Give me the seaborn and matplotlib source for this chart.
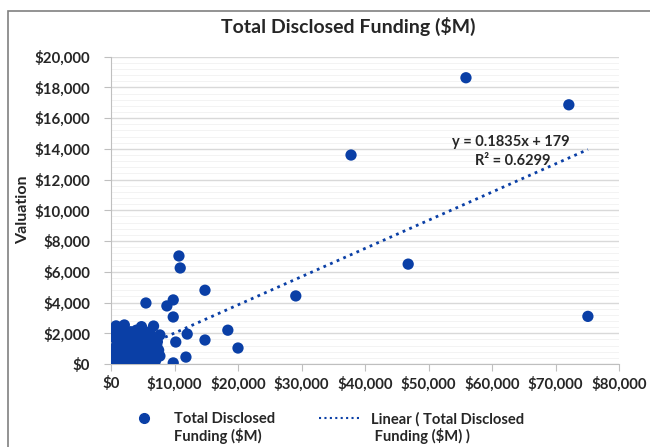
import pandas as pd
import numpy as np
import matplotlib.pyplot as plt
import seaborn as sns
from matplotlib.ticker import FuncFormatter, MultipleLocator
from matplotlib.lines import Line2D
from matplotlib.patches import Rectangle
from matplotlib.offsetbox import HPacker

# funding ($M) vs valuation
funding = [55900, 72100, 37800, 46800, 29100, 75100, 20000, 18400, 14800, 14800,
           10700, 10900, 9800, 8800, 9800, 12000, 10200, 11800, 9800, 7700,
           5500, 800, 2100, 4800, 6700, 7700,
           300, 500, 700, 900, 1000, 1200, 1300, 1500, 1600, 1800,
           2000, 2100, 2200, 2400, 2500, 2700, 2800, 3000, 3100, 3200,
           3400, 3500, 3600, 3800, 3900, 4000, 4100, 4300, 4400, 4500,
           4700, 4800, 5000, 5100, 5200, 5400, 5500, 5600, 5800, 6000,
           6100, 6300, 6500, 6700, 6900, 7000, 7200, 7500, 7300, 600,
           800, 1100, 400, 200, 1400, 2600, 3300, 1900, 2900, 3700,
           4600, 5300, 6200, 6800, 500, 1000, 1500, 2300, 4200, 5900]
valuation = [18630, 16870, 13600, 6500, 4430, 3100, 1040, 2200, 4800, 1560,
             7030, 6250, 4170, 3780, 3060, 1950, 1430, 450, 70, 520,
             3970, 2480, 2540, 2430, 2470, 1890,
             50, 300, 800, 1200, 100, 600, 1500, 350, 1000, 1800,
             50, 700, 1300, 2000, 400, 950, 1600, 150, 2100, 550,
             1100, 1850, 300, 800, 1400, 2200, 50, 650, 1200, 1700,
             250, 900, 2000, 1500, 450, 1100, 100, 1750, 700, 1300,
             2100, 350, 950, 1600, 600, 200, 1200, 900, 1450, 1700,
             2100, 1900, 1000, 600, 50, 1200, 0, 400, 200, 1700,
             1300, 750, 850, 1100, 2200, 1500, 2300, 900, 300, 2000]

slope = 0.1835
intercept = 179
r2 = 0.6299

x_ticks = [0, 10000, 20000, 30000, 40000, 50000, 60000, 70000, 80000]

blue = "#0A3FA6"

df = pd.DataFrame({"funding": funding, "valuation": valuation})
trend = pd.DataFrame({"funding": [min(funding), max(funding)]})
trend["valuation"] = slope * trend["funding"] + intercept

sns.set_style("white")
plt.rcParams["font.family"] = ["Lato", "DejaVu Sans"]

fig = plt.figure(figsize=(6.5, 4.47), dpi=100)
ax = fig.add_axes([111 / 650, 1 - 364 / 447, 508 / 650, 307.3 / 447])

ax.yaxis.set_minor_locator(MultipleLocator(400))
ax.grid(axis="y", which="minor", color="#f1f1f1", lw=0.6)
ax.grid(axis="y", which="major", color="#d9d9d9", lw=1)
ax.set_axisbelow(True)

sns.lineplot(data=trend, x="funding", y="valuation", ax=ax, color=blue,
             lw=2, linestyle=(0, (1, 1.6)), zorder=2)
sns.scatterplot(data=df, x="funding", y="valuation", ax=ax, color=blue,
                s=66, edgecolor="none", zorder=3)

ax.set_xlim(0, 80000)
ax.set_ylim(0, 20000)
ax.set_xticks(x_ticks)
ax.yaxis.set_major_locator(MultipleLocator(2000))
fmt = FuncFormatter(lambda v, p: f"${v:,.0f}")
ax.xaxis.set_major_formatter(fmt)
ax.yaxis.set_major_formatter(fmt)

for s in ["top", "right"]:
    ax.spines[s].set_visible(False)
for s in ["left", "bottom"]:
    ax.spines[s].set_color("#bfbfbf")
ax.tick_params(axis="y", which="major", left=True, length=5, color="#bfbfbf", pad=10)
ax.tick_params(axis="y", which="minor", left=False)
ax.tick_params(axis="x", bottom=True, length=5, color="#bfbfbf", pad=4)
for lab in ax.get_xticklabels() + ax.get_yticklabels():
    lab.set_fontweight("bold")
    lab.set_fontsize(10.8)

ax.set_xlabel("")
ax.set_ylabel("")
fig.text(23 / 650, 1 - 210 / 447, "Valuation", rotation=90, ha="center", va="center",
         fontsize=11.5, fontweight="bold")

ax.text(63000, 14480, f"y = {slope}x + {intercept}", ha="center", va="center",
        fontsize=10.5, fontweight="bold")
ax.text(63300, 13180, f"R² = {r2}", ha="center", va="center",
        fontsize=10.5, fontweight="bold")

fig.text(348 / 650, 1 - 26 / 447, "Total Disclosed Funding ($M)", ha="center",
         va="center", fontsize=14, fontweight="bold")

handles = [Line2D([], [], marker="o", ls="", color=blue, ms=7),
           Line2D([], [], ls=(0, (1, 1.6)), color=blue, lw=1.5)]
labels = ["Total Disclosed\nFunding ($M)", "Linear ( Total Disclosed\n Funding ($M) )"]
leg = fig.legend(handles, labels, loc="upper left", bbox_to_anchor=(115 / 650, 1 - 405 / 447),
                 ncol=2, frameon=False, prop={"weight": "bold", "size": 10.6},
                 handlelength=2.9, handletextpad=0.6, columnspacing=3.0, borderpad=0)
for t in leg.get_texts():
    t.set_linespacing(1.1)
# put the handles next to the first line of each label, like Excel does
for hp in leg.findobj(HPacker):
    hp.align = "top"

fig.patches.append(Rectangle((8 / 650, -0.1), 1.2, 1.1 - 11 / 447, transform=fig.transFigure,
                             fill=False, edgecolor="#808080", lw=1.2))

fig.savefig("out.png", dpi=100)
